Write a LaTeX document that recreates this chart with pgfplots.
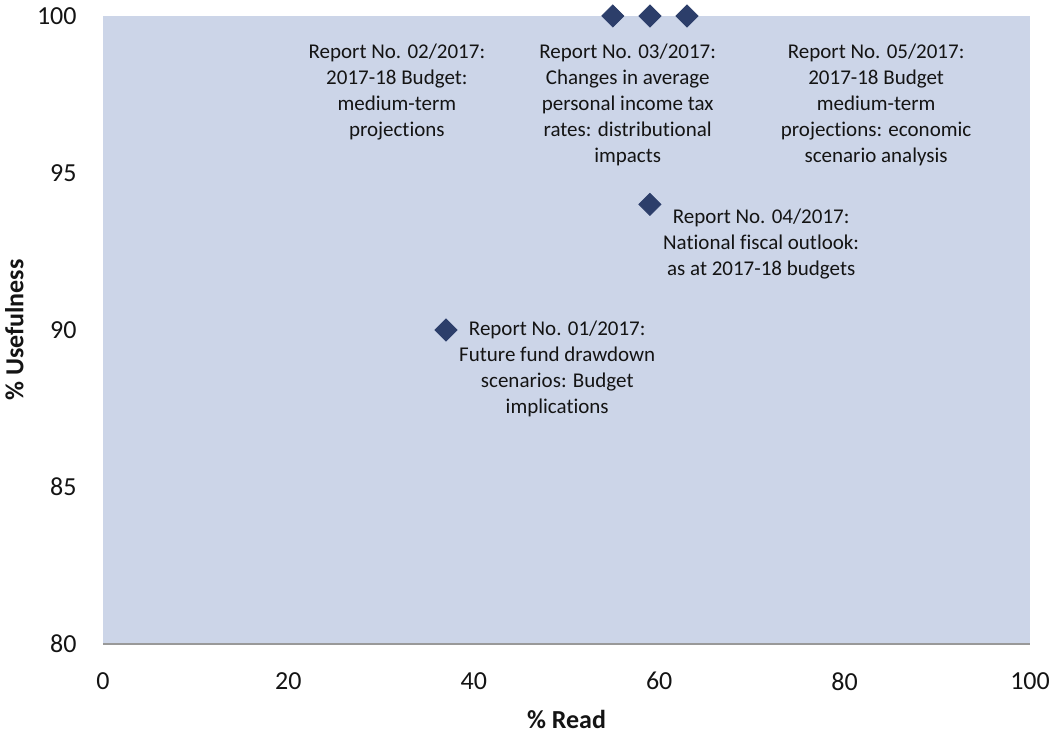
\documentclass[border=0pt]{standalone}
\usepackage{pgfplots}
\pgfplotsset{compat=1.18}
\usepackage{fontspec}
\setmainfont{Carlito}[Ligatures={NoCommon}]

\definecolor{plotbg}{HTML}{CCD5E8}
\definecolor{marknavy}{HTML}{2C3E6A}
\definecolor{axisgray}{HTML}{999999}
\definecolor{txt}{HTML}{141414}

\begin{document}
\begin{tikzpicture}
\begin{axis}[
    scale only axis,
    width=463.5pt,
    height=314pt,
    xmin=0, xmax=100,
    ymin=80, ymax=100,
    xtick={0,20,...,100},
    ytick={80,85,...,100},
    major tick length=0pt,
    axis x line*=bottom,
    axis y line*=left,
    x axis line style={-, draw=axisgray, line width=1pt},
    y axis line style={draw=none},
    axis background/.style={fill=plotbg},
    clip=false,
    /pgf/number format/assume math mode=true,
    tick label style={font=\fontsize{13}{15.6}\selectfont, text=txt, inner sep=0pt},
    xticklabel style={anchor=north, yshift=-14pt},
    yticklabel style={anchor=east, xshift=-13pt},
    xlabel={\% Read},
    ylabel={\% Usefulness},
    label style={font=\bfseries\fontsize{13}{15.6}\selectfont, text=txt, inner sep=0pt},
    xlabel style={at={(axis description cs:0.5,-0.1051)}, anchor=north},
    ylabel style={at={(axis description cs:-0.0852,0.5)}, anchor=south},
]
\addplot[only marks, mark=square*, mark size=3.9pt,
    mark options={rotate=45, fill=marknavy, draw=marknavy}]
    coordinates {(37,90) (55,100) (59,100) (63,100) (59,94)};

\begin{scope}[every node/.style={align=center, text=txt,
    font=\fontsize{10.5}{13}\selectfont, inner sep=0pt}]
\node at (axis cs:49.0,88.76) {Report No. 01/2017:\\Future fund drawdown\\scenarios: Budget\\implications};
\node at (axis cs:31.7,97.58) {Report No. 02/2017:\\2017-18 Budget:\\medium-term\\projections};
\node at (axis cs:56.6,97.17) {Report No. 03/2017:\\Changes in average\\personal income tax\\rates: distributional\\impacts};
\node at (axis cs:71.0,92.74) {Report No. 04/2017:\\National fiscal outlook:\\as at 2017-18 budgets};
\node at (axis cs:83.4,97.17) {Report No. 05/2017:\\2017-18 Budget\\medium-term\\projections: economic\\scenario analysis};
\end{scope}
\end{axis}
\pgfresetboundingbox
\path[use as bounding box] ([xshift=-51.5pt,yshift=-46pt]current axis.south west)
    rectangle ([xshift=11pt,yshift=8pt]current axis.north east);
\end{tikzpicture}
\end{document}
